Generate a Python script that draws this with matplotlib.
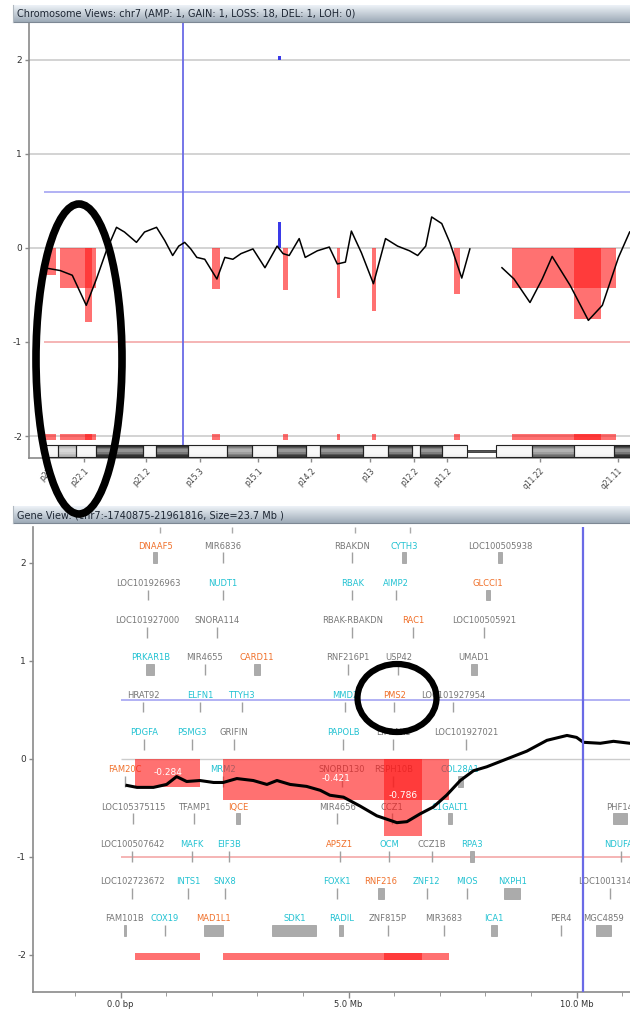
import numpy as np
import matplotlib
matplotlib.use("Agg")
import matplotlib.pyplot as plt
from matplotlib.patches import Rectangle, Ellipse
from matplotlib.ticker import FixedLocator, MultipleLocator

plt.rcParams["font.family"] = ["DejaVu Sans"]
plt.rcParams["axes.unicode_minus"] = False

# ---------------------------------------------------------------- data
chrom_title = "Chromosome Views: chr7 (AMP: 1, GAIN: 1, LOSS: 18, DEL: 1, LOH: 0)"
gene_title = "Gene View: (chr7:-1740875-21961816, Size=23.7 Mb )"

# cytobands of the visible part of chr7 (Mb)
band_start = [0.0, 2.0, 4.5, 7.2, 13.6, 15.4, 19.7, 25.0, 28.4, 31.8, 35.7,
              37.6, 43.5, 46.9, 50.1, 51.2, 54.2, 57.6, 61.5, 66.4, 72.1, 77.6]
band_end = [2.0, 4.5, 7.2, 13.6, 15.4, 19.7, 25.0, 28.4, 31.8, 35.7, 37.6,
            43.5, 46.9, 50.1, 51.2, 54.2, 57.6, 61.5, 66.4, 72.1, 77.6, 86.4]
band_stain = ["gneg", "gpos25", "gneg", "gpos100", "gneg", "gpos100", "gneg",
              "gpos50", "gneg", "gpos75", "gneg", "gpos75", "gneg", "gpos75",
              "gneg", "gpos75", "gneg", "acen", "gneg", "gpos50", "gneg",
              "gpos100"]
band_tick_pos = [0.7, 5.6, 14.0, 21.3, 29.2, 36.4, 44.4, 50.4, 54.9, 67.5, 78.1]
band_tick_lab = ["p22", "p22.1", "p21.2", "p15.3", "p15.1", "p14.2", "p13",
                 "p12.2", "p11.2", "q11.22", "q21.11"]

# smoothed log-ratio along chr7 (Mb, value); NaN = centromere gap
chrom_pos = [0.16, 2.34, 3.98, 5.88, 7.26, 8.61, 9.99, 11.07, 12.70, 13.80,
             15.43, 16.54, 17.62, 18.44, 19.25, 20.08, 20.90, 21.98, 23.63,
             24.71, 25.80, 26.90, 28.53, 30.16, 31.81, 32.62, 33.45, 34.81,
             35.63, 37.27, 38.90, 39.99, 41.09, 41.90, 43.26, 44.90, 46.54,
             48.18, 49.81, 50.91, 52.00, 52.81, 54.18, 55.27, 56.90, 58.00,
             60.0, 62.36, 64.00, 66.17, 67.83, 69.18, 71.64, 74.10, 76.00,
             78.19, 79.71]
chrom_val = [-0.21, -0.24, -0.29, -0.61, -0.33, -0.03, 0.22, 0.17, 0.06, 0.17,
             0.22, 0.08, -0.08, 0.02, 0.06, -0.01, -0.10, -0.12, -0.33, -0.10,
             -0.12, -0.06, -0.01, -0.21, 0.02, -0.06, -0.08, 0.10, -0.10,
             -0.03, 0.01, -0.17, -0.15, 0.18, -0.05, -0.38, 0.10, 0.02, -0.03,
             -0.08, 0.02, 0.33, 0.26, 0.06, -0.32, -0.01, np.nan, -0.21, -0.33,
             -0.58, -0.33, -0.09, -0.40, -0.77, -0.61, -0.10, 0.17]

# copy-number segments (Mb)
loss_start = [0.32, 2.25, 5.77, 23.0, 32.6, 39.9, 44.7, 55.9, 63.7, 72.1]
loss_end = [1.74, 7.20, 6.62, 24.0, 33.3, 40.4, 45.2, 56.7, 77.9, 75.8]
loss_val = [-0.284, -0.421, -0.786, -0.44, -0.45, -0.53, -0.67, -0.49, -0.43,
            -0.76]
gain_start = [31.9]
gain_end = [32.3]
gain_val = [0.28]
labelled_segments = [0, 1, 2]

# smoothed log-ratio in the gene view (Mb, value)
gv_pos = [0.14, 0.36, 0.72, 1.01, 1.23, 1.45, 1.74, 2.04, 2.25, 2.55, 2.91,
          3.21, 3.43, 3.72, 4.08, 4.38, 4.59, 4.89, 5.25, 5.62, 6.06, 6.28,
          6.57, 6.86, 7.15, 7.45, 7.74, 8.03, 8.47, 8.91, 9.35, 9.79, 10.00,
          10.15, 10.52, 10.81, 11.17]
gv_val = [-0.27, -0.29, -0.29, -0.26, -0.18, -0.23, -0.22, -0.24, -0.24,
          -0.20, -0.22, -0.26, -0.22, -0.26, -0.28, -0.32, -0.37, -0.39,
          -0.48, -0.58, -0.65, -0.64, -0.56, -0.49, -0.37, -0.22, -0.12,
          -0.08, 0.00, 0.08, 0.19, 0.24, 0.22, 0.17, 0.16, 0.18, 0.16]

# genes: name, centre (Mb), extent (Mb, 0 = single tick), row, colour class
gene_name = ["DNAAF5", "MIR6836", "RBAKDN", "CYTH3", "LOC100505938",
             "LOC101926963", "NUDT1", "RBAK", "AIMP2", "GLCCI1",
             "LOC101927000", "SNORA114", "RBAK-RBAKDN", "RAC1", "LOC100505921",
             "PRKAR1B", "MIR4655", "CARD11", "RNF216P1", "USP42", "UMAD1",
             "HRAT92", "ELFN1", "TTYH3", "MMD2", "PMS2", "LOC101927954",
             "PDGFA", "PSMG3", "GRIFIN", "PAPOLB", "EIF2AK1", "LOC101927021",
             "FAM20C", "MRM2", "SNORD130", "RSPH10B", "COL28A1",
             "LOC105375115", "TFAMP1", "IQCE", "MIR4656", "CCZ1", "C1GALT1",
             "PHF14",
             "LOC100507642", "MAFK", "EIF3B", "AP5Z1", "OCM", "CCZ1B", "RPA3",
             "NDUFA4",
             "LOC102723672", "INTS1", "SNX8", "FOXK1", "RNF216", "ZNF12",
             "MIOS", "NXPH1", "LOC100131425",
             "FAM101B", "COX19", "MAD1L1", "SDK1", "RADIL", "ZNF815P",
             "MIR3683", "ICA1", "PER4", "MGC4859"]
gene_mb = [0.76, 2.25, 5.08, 6.22, 8.32,
           0.60, 2.25, 5.08, 6.04, 8.06,
           0.58, 2.12, 5.08, 6.41, 7.97,
           0.65, 1.85, 2.99, 4.99, 6.09, 7.75,
           0.49, 1.74, 2.66, 4.92, 6.00, 7.29,
           0.52, 1.57, 2.49, 4.88, 5.98, 7.58,
           0.10, 2.25, 4.86, 5.98, 7.45,
           0.27, 1.61, 2.58, 4.75, 5.95, 7.23, 10.95,
           0.25, 1.57, 2.38, 4.81, 5.89, 6.83, 7.71, 10.97,
           0.25, 1.48, 2.29, 4.75, 5.71, 6.71, 7.59, 8.59, 10.73,
           0.09, 0.97, 2.03, 3.81, 4.84, 5.86, 7.09, 8.19, 9.66, 10.60]
gene_span = [0.09, 0, 0, 0.09, 0.10,
             0, 0, 0, 0, 0.10,
             0, 0, 0, 0, 0,
             0.18, 0, 0.14, 0, 0, 0.15,
             0, 0, 0, 0, 0, 0,
             0, 0, 0, 0, 0, 0,
             0, 0, 0, 0, 0.10,
             0, 0, 0.08, 0, 0, 0.08, 0.30,
             0, 0, 0, 0, 0, 0, 0.08, 0,
             0, 0, 0, 0, 0.12, 0, 0, 0.35, 0,
             0.05, 0, 0.42, 0.97, 0.08, 0, 0, 0.13, 0, 0.33]
gene_row = [0] * 5 + [1] * 5 + [2] * 5 + [3] * 6 + [4] * 6 + [5] * 6 + \
           [6] * 5 + [7] * 7 + [8] * 8 + [9] * 9 + [10] * 10
gene_kind = ["o", "g", "g", "c", "g",
             "g", "c", "c", "c", "o",
             "g", "g", "g", "o", "g",
             "c", "g", "o", "g", "g", "g",
             "g", "c", "c", "c", "o", "g",
             "c", "c", "g", "c", "g", "g",
             "o", "c", "g", "g", "c",
             "g", "g", "o", "g", "g", "c", "g",
             "g", "c", "c", "o", "c", "g", "c", "c",
             "g", "c", "c", "c", "o", "c", "c", "c", "g",
             "g", "c", "o", "c", "c", "g", "g", "c", "g", "g"]
# ticks of a gene row lying above the visible range
upper_row_mb = [0.87, 2.45, 5.14, 6.35]

cursor_top_mb = 19.0
cursor_gene_mb = 10.14

# ---------------------------------------------------------------- style
W, H = 630, 1010
KIND_COLOR = {"o": "#f0702a", "c": "#22c2d2", "g": "#777777"}
STAIN_LEVEL = {"gneg": 0.95, "gpos25": 0.70, "gpos50": 0.42, "gpos75": 0.22,
               "gpos100": 0.18, "acen": 0.35}
AXIS_GRAY = "#8a8a8a"
LOSS_RED = "#ff1a1a"
GRID_GRAY = "#cccccc"
THR_BLUE = "#a4a4f2"
THR_PINK = "#f4a8a8"
CURSOR_BLUE = "#6a6ae6"

fig = plt.figure(figsize=(W / 100, H / 100), dpi=100)
fig.patch.set_facecolor("white")


def style_axes(ax):
    for side in ("top", "right"):
        ax.spines[side].set_visible(False)
    for side in ("left", "bottom"):
        ax.spines[side].set_color(AXIS_GRAY)
        ax.spines[side].set_linewidth(1.2)
    ax.tick_params(colors=AXIS_GRAY, labelcolor="#333333", width=1)


# ================================================================ chromosome view
T_PX_MB = 7.36
t_left, t_right = -1.9, 160.0
axT = fig.add_axes([29 / W, 1 - 458 / H, (t_right - t_left) * T_PX_MB / W,
                    (458 - 22) / H])
axT.set_xlim(t_left, t_right)
axT.set_ylim(-2.234, 2.404)
style_axes(axT)

axT.hlines([2, 1, 0, -2], t_left, t_right, color=GRID_GRAY, lw=1.2, zorder=1)
axT.hlines(0.6, 0.2, t_right, color=THR_BLUE, lw=1.2, zorder=1)
axT.hlines(-1, 0.2, t_right, color=THR_PINK, lw=1.2, zorder=1)
axT.vlines(cursor_top_mb, -2.096, 2.404, color=CURSOR_BLUE, lw=1.3, zorder=2)

lw_loss = np.subtract(loss_end, loss_start)
lw_gain = np.subtract(gain_end, gain_start)
axT.bar(loss_start, loss_val, width=lw_loss, align="edge", color=LOSS_RED,
        alpha=0.62, lw=0, zorder=3)
axT.bar(gain_start, gain_val, width=lw_gain, align="edge", color="#3a3ae8",
        lw=0, zorder=3)
axT.bar(loss_start, 0.06, width=lw_loss, bottom=-2.04, align="edge",
        color=LOSS_RED, alpha=0.62, lw=0, zorder=3)
axT.bar(gain_start, 0.045, width=lw_gain, bottom=2.0, align="edge",
        color="#3a3ae8", lw=0, zorder=3)
axT.plot(chrom_pos, chrom_val, color="black", lw=1.1, zorder=4)

# ideogram with a rounded, cylinder-like shading
ideo_top, ideo_bot = -2.096, -2.222
n_strip = 8
strip_h = (ideo_top - ideo_bot) / n_strip
for s, e, st in zip(band_start, band_end, band_stain):
    base = STAIN_LEVEL[st]
    if st == "acen":
        y0 = ideo_bot + 0.38 * (ideo_top - ideo_bot)
        h = 0.24 * (ideo_top - ideo_bot)
        axT.add_patch(Rectangle((s, y0), e - s, h, fc="#555555",
                                ec="#333333", lw=0.6, zorder=5))
        axT.add_patch(Rectangle((s, y0 + h * 0.35), e - s, h * 0.3,
                                fc="#aaaaaa", lw=0, zorder=5))
        continue
    for k in range(n_strip):
        t = (k + 0.5) / n_strip
        lev = base + (1 - base) * 0.5 * np.sin(np.pi * t) ** 2
        axT.add_patch(Rectangle((s, ideo_bot + k * strip_h), e - s, strip_h,
                                fc=str(min(lev, 1.0)), lw=0, zorder=5))
    axT.add_patch(Rectangle((s, ideo_bot), e - s, ideo_top - ideo_bot,
                            fc="none", ec="#222222", lw=0.8, zorder=6))

axT.set_yticks([-2, -1, 0, 1, 2])
axT.set_yticklabels(["-2", "-1", "0", "1", "2"])
axT.tick_params(axis="y", length=3, labelsize=6.5, pad=2)
axT.set_xticks(band_tick_pos)
axT.set_xticklabels(band_tick_lab, rotation=45, ha="right",
                    rotation_mode="anchor")
axT.tick_params(axis="x", length=3, labelsize=5.5, pad=3, labelcolor="#444444")

# ================================================================ gene view
B_PX_MB = 45.6
b_left, b_right = -1.92, 21.96
axB = fig.add_axes([33 / W, 1 - 992 / H, (b_right - b_left) * B_PX_MB / W,
                    (992 - 527) / H])
axB.set_xlim(b_left, b_right)
b_top = 2.367
axB.set_ylim(-2.378, b_top)
style_axes(axB)

axB.hlines(0, 0, b_right, color=GRID_GRAY, lw=1.0, zorder=1)
axB.hlines(0.6, 0, b_right, color=THR_BLUE, lw=1.2, zorder=1)
axB.hlines(-1, 0, b_right, color=THR_PINK, lw=1.2, zorder=1)
axB.vlines(cursor_gene_mb, -2.378, b_top, color=CURSOR_BLUE, lw=1.6, zorder=6)
axB.vlines(upper_row_mb, b_top - 0.06, b_top, color="#aaaaaa", lw=1, zorder=2)

row_y0, row_step = 2.173, 0.3806
for name, mb, span, row, kind in zip(gene_name, gene_mb, gene_span, gene_row,
                                     gene_kind):
    y = row_y0 - row * row_step
    axB.text(mb, y, name, color=KIND_COLOR[kind], fontsize=6, ha="center",
             va="center", zorder=2)
    if span > 0:
        axB.add_patch(Rectangle((mb - span / 2, y - 0.175), span, 0.11,
                                fc="#ababab", ec="#9a9a9a", lw=0.5, zorder=2))
    else:
        axB.vlines(mb, y - 0.175, y - 0.065, color="#a0a0a0", lw=1, zorder=2)

axB.bar(loss_start, loss_val, width=lw_loss, align="edge", color=LOSS_RED,
        alpha=0.62, lw=0, zorder=3)
axB.bar(loss_start, 0.07, width=lw_loss, bottom=-2.05, align="edge",
        color=LOSS_RED, alpha=0.62, lw=0, zorder=3)
axB.plot(gv_pos, gv_val, color="black", lw=2.2, zorder=4)
for i in labelled_segments:
    mid = (loss_start[i] + loss_end[i]) / 2
    axB.text(mid, loss_val[i] * 0.47, f"{loss_val[i]:.3f}", color="white",
             fontsize=6.5, ha="center", va="center", zorder=5)

axB.set_yticks([-2, -1, 0, 1, 2])
axB.set_yticklabels(["-2", "-1", "0", "1", "2"])
axB.tick_params(axis="y", length=3, labelsize=6.5, pad=2)
axB.xaxis.set_major_locator(FixedLocator([0, 5, 10, 15, 20]))
axB.set_xticklabels(["0.0 bp", "5.0 Mb", "10.0 Mb", "15.0 Mb", "20.0 Mb"])
axB.xaxis.set_minor_locator(MultipleLocator(1))
axB.tick_params(axis="x", which="major", length=4, labelsize=6, pad=2)
axB.tick_params(axis="x", which="minor", length=3, color=AXIS_GRAY)

# ================================================================ overlay: headers and pen marks
ov = fig.add_axes([0, 0, 1, 1], zorder=20)
ov.set_xlim(0, W)
ov.set_ylim(H, 0)
ov.axis("off")
ov.patch.set_visible(False)

grad = np.linspace(0, 1, 32)[:, None]
top_c = np.array([0.93, 0.95, 0.97])
bot_c = np.array([0.62, 0.67, 0.72])
header_img = (top_c[None, None, :] * (1 - grad[..., None]) +
              bot_c[None, None, :] * grad[..., None])
header_img = np.repeat(header_img, 2, axis=1)
for (y0, y1, txt) in [(5, 22, chrom_title), (506, 523, gene_title)]:
    ov.imshow(header_img, extent=(13, W, y1, y0), aspect="auto",
              origin="upper", zorder=1, interpolation="bilinear")
    ov.plot([13, W], [y1, y1], color="#7d8894", lw=0.8, zorder=2)
    ov.plot([13, 13], [y0, y1], color="#b0b8c0", lw=0.8, zorder=2)
    ov.text(17, (y0 + y1) / 2 + 0.5, txt, fontsize=7, color="#1d2633",
            va="center", ha="left", zorder=3)

ov.add_patch(Ellipse((79, 359), 86, 310, fill=False, ec="black", lw=5.5,
                     zorder=5))
ov.add_patch(Ellipse((397, 698), 79, 68, fill=False, ec="black", lw=4.5,
                     zorder=5))
ov.set_xlim(0, W)
ov.set_ylim(H, 0)

fig.savefig("out.png", dpi=100, facecolor="white")
